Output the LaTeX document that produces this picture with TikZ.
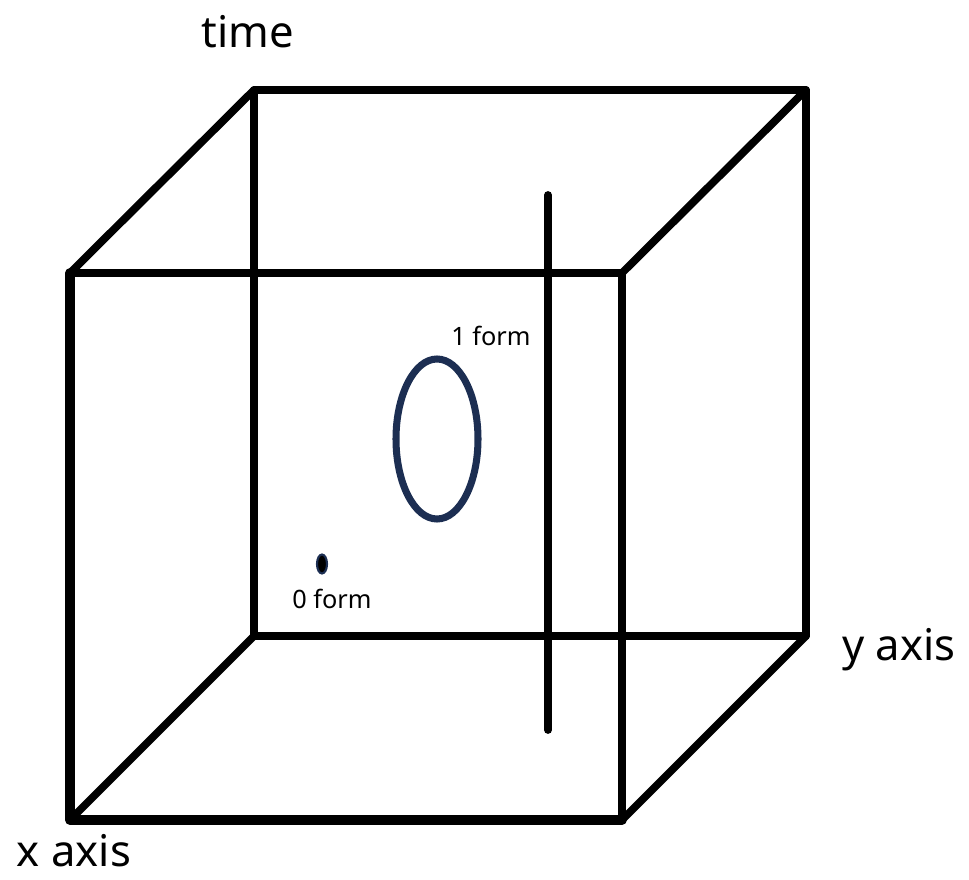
\documentclass[tikz,border=0pt]{standalone}
\usepackage{fontspec}
\setmainfont{Noto Sans}
\definecolor{formblue}{HTML}{1C2E52}
\tikzset{
  edge/.style={line width=5.5pt, line cap=round, line join=round},
  frontedge/.style={line width=7pt, line cap=round, line join=round},
  biglabel/.style={font=\fontsize{31}{34}\selectfont, anchor=base, inner sep=0pt},
  smalllabel/.style={font=\fontsize{18}{21}\selectfont, anchor=base, inner sep=0pt}
}
\begin{document}
\begin{tikzpicture}[x=0.025cm,y=-0.025cm]
\useasboundingbox (0,0) rectangle (969,880);

% corners of the cube
\coordinate (f1) at (70,273);
\coordinate (f2) at (622,273);
\coordinate (f3) at (622,820);
\coordinate (f4) at (70,820);
\coordinate (b1) at (254,90);
\coordinate (b2) at (806,90);
\coordinate (b3) at (806,636);
\coordinate (b4) at (254,636);

\draw[edge] (b1) -- (b2) -- (b3) -- (b4) -- cycle;
\draw[edge] (f1) -- (b1);
\draw[edge] (f2) -- (b2);
\draw[edge] (f3) -- (b3);
\draw[edge] (f4) -- (b4);
\draw[edge] (f1) -- (f2) -- (f3);
\draw[frontedge] (f3) -- (f4) -- (f1);

% the vertical line
\coordinate (v1) at (548,195);
\coordinate (v2) at (548,730);
\draw[edge] (v1) -- (v2);

% forms
\draw[formblue, line width=5pt] (437,439) ellipse (41 and 80);
\draw[formblue, fill=black, line width=1.5pt] (322,564) ellipse (5 and 9.5);

\node[biglabel] (time) at (248,48) {time};
\node[biglabel] (yaxis) at (899,660) {y axis};
\node[biglabel] (xaxis) at (74,866) {x axis};
\node[smalllabel] (oneform) at (491,346) {1 form};
\node[smalllabel] (zeroform) at (332,608) {0 form};
\end{tikzpicture}
\end{document}
